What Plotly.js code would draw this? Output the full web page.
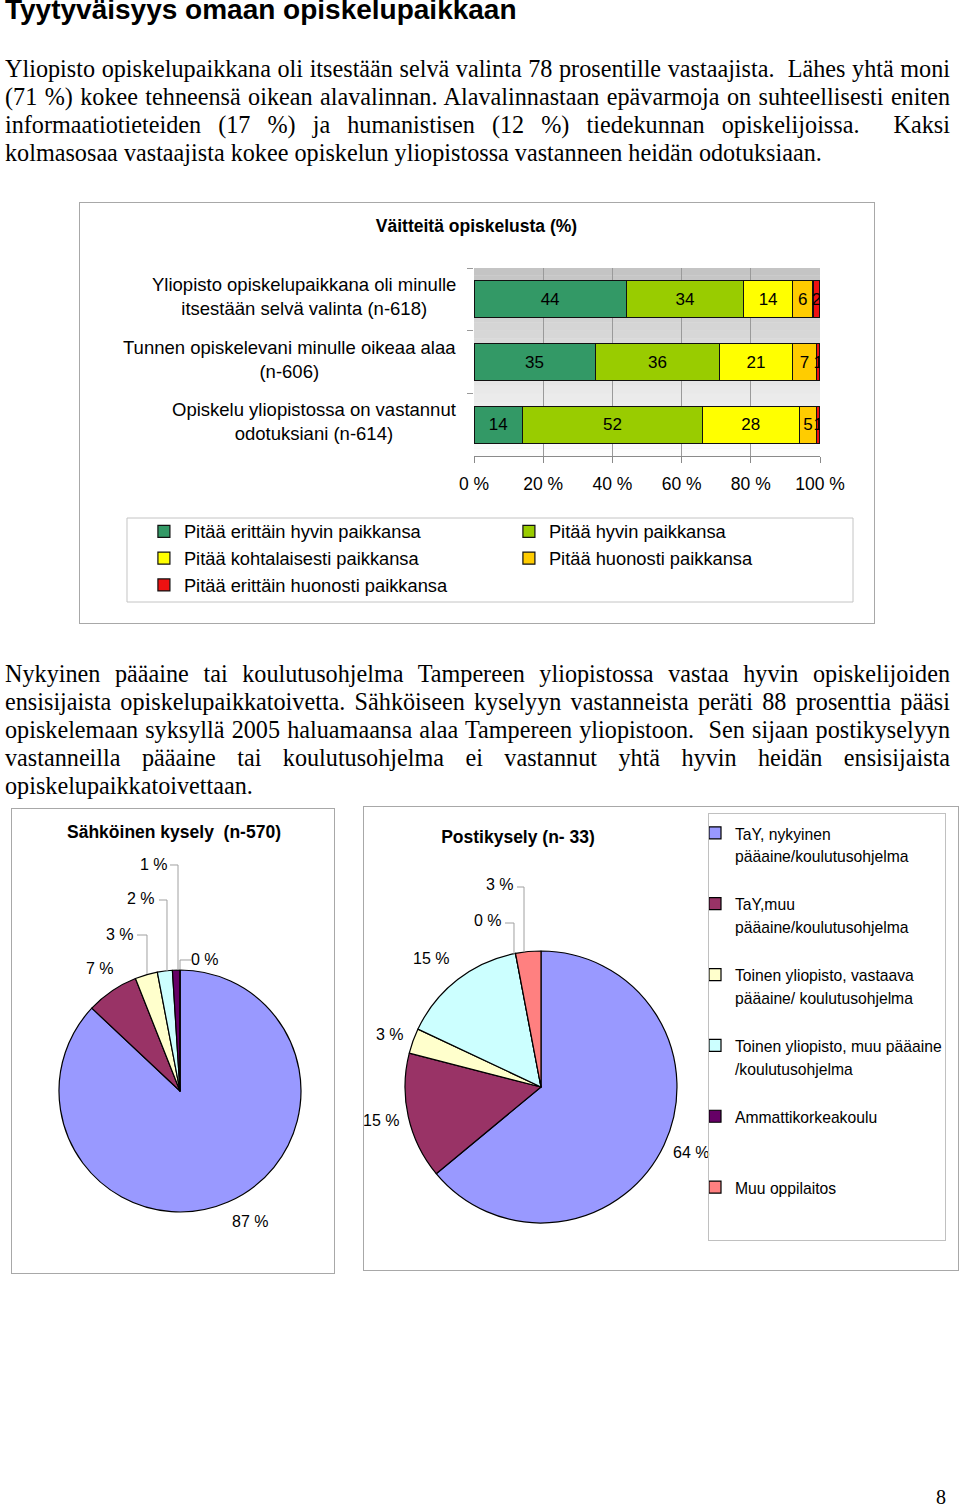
<!DOCTYPE html>
<html>
<head>
<meta charset="utf-8">
<script src="https://cdn.plot.ly/plotly-3.0.1.min.js"></script>
<style>
  body { margin:0; background:#fff; }
  #page { position:relative; width:960px; height:1508px; overflow:hidden; background:#fff; }
  .h { position:absolute; left:5px; top:-4px; font-family:"Liberation Sans", Arial, sans-serif; font-weight:bold; font-size:28px; line-height:28px; white-space:nowrap; color:#000; }
  .ln { position:absolute; left:5px; width:945px; height:28px; font-family:"Liberation Serif","Times New Roman",serif; font-size:24.2px; line-height:28px; color:#000; white-space:nowrap; text-align:left; }
  .ln span { white-space:pre; display:inline-block; transform-origin:0 50%; }
  .chart { position:absolute; }
  .frame { position:absolute; box-sizing:border-box; border:1.5px solid #a8a8a8; pointer-events:none; z-index:5; }
  .lframe { position:absolute; box-sizing:border-box; border:1px solid #c0c0c0; pointer-events:none; z-index:5; }
  .pg { position:absolute; left:936px; top:1485px; font-family:"Liberation Serif","Times New Roman",serif; font-size:20px; line-height:24px; }
</style>
</head>
<body>
<div id="page">
  <div class="h">Tyytyväisyys omaan opiskelupaikkaan</div>

  <div class="ln j" style="top:55px"><span>Yliopisto opiskelupaikkana oli itsestään selvä valinta 78 prosentille vastaajista.  Lähes yhtä moni</span></div>
  <div class="ln j" style="top:83px"><span>(71 %) kokee tehneensä oikean alavalinnan. Alavalinnastaan epävarmoja on suhteellisesti eniten</span></div>
  <div class="ln j" style="top:111px"><span>informaatiotieteiden (17 %) ja humanistisen (12 %) tiedekunnan opiskelijoissa.  Kaksi</span></div>
  <div class="ln" style="top:139px"><span>kolmasosaa vastaajista kokee opiskelun yliopistossa vastanneen heidän odotuksiaan.</span></div>

  <div id="bar" class="chart" style="left:79px;top:202px;width:795px;height:421px;"></div>
  <div class="frame" style="left:79px;top:202px;width:796px;height:422px;"></div>

  <div class="ln j" style="top:660px"><span>Nykyinen pääaine tai koulutusohjelma Tampereen yliopistossa vastaa hyvin opiskelijoiden</span></div>
  <div class="ln j" style="top:688px"><span>ensisijaista opiskelupaikkatoivetta. Sähköiseen kyselyyn vastanneista peräti 88 prosenttia pääsi</span></div>
  <div class="ln j" style="top:716px"><span>opiskelemaan syksyllä 2005 haluamaansa alaa Tampereen yliopistoon.  Sen sijaan postikyselyyn</span></div>
  <div class="ln j" style="top:744px"><span>vastanneilla pääaine tai koulutusohjelma ei vastannut yhtä hyvin heidän ensisijaista</span></div>
  <div class="ln" style="top:772px"><span>opiskelupaikkatoivettaan.</span></div>

  <div id="pie1" class="chart" style="left:11px;top:808px;width:323px;height:465px;"></div>
  <div class="frame" style="left:11px;top:808px;width:324px;height:466px;"></div>
  <div id="pie2" class="chart" style="left:363px;top:806px;width:595px;height:464px;"></div>
  <div class="frame" style="left:363px;top:806px;width:596px;height:465px;"></div>
  <div class="lframe" style="left:708px;top:813px;width:238px;height:428px;"></div>

  <div class="pg">8</div>
</div>

<script>
// ---------- DATA ----------
const statements = [
  "Yliopisto opiskelupaikkana oli minulle<br>itsestään selvä valinta (n-618)",
  "Tunnen opiskelevani minulle oikeaa alaa<br>(n-606)",
  "Opiskelu yliopistossa on vastannut<br>odotuksiani (n-614)"
];
const seriesNames = [
  "Pitää erittäin hyvin paikkansa",
  "Pitää hyvin paikkansa",
  "Pitää kohtalaisesti paikkansa",
  "Pitää huonosti paikkansa",
  "Pitää erittäin huonosti paikkansa"
];
const erittainHyvin    = [44, 35, 14];
const hyvin            = [34, 36, 52];
const kohtalaisesti    = [14, 21, 28];
const huonosti         = [6, 7, 5];
const erittainHuonosti = [2, 1, 1];
const xTickVals = [0, 20, 40, 60, 80, 100];
const xTickText = ["0 %", "20 %", "40 %", "60 %", "80 %", "100 %"];
const barTitle = "Väitteitä opiskelusta (%)";

const pieLabels = [
  "TaY, nykyinen<br>pääaine/koulutusohjelma",
  "TaY,muu<br>pääaine/koulutusohjelma",
  "Toinen yliopisto, vastaava<br>pääaine/ koulutusohjelma",
  "Toinen yliopisto, muu pääaine<br>/koulutusohjelma",
  "Ammattikorkeakoulu",
  "Muu oppilaitos"
];
const sahkoinenValues = [87, 7, 3, 2, 1, 0];
const postiValues     = [64, 15, 3, 15, 0, 3];
const pie1Title = "Sähköinen kysely&nbsp; (n-570)";
const pie2Title = "Postikysely (n- 33)";

// ---------- STYLE ----------
const SANS = '"Liberation Sans", Arial, sans-serif';
const barColors = ["#339966", "#99cc00", "#ffff00", "#ffcc00", "#ee1111"];
const pieColors = ["#9999ff", "#993366", "#ffffcc", "#ccffff", "#660066", "#ff8080"];
const config = { staticPlot: true, displayModeBar: false };

// label placement (pixels inside each chart box, text centre) and leader lines (elbows)
const pie1LabelPos = [[239, 413], [89, 161], [109, 126], [130, 91], [143, 56], [194, 151]];
const pie1Leaders  = [null, null,
  [[126, 127], [136, 127], [136, 166]],
  [[148, 92], [156, 92], [156, 163]],
  [[159, 57], [167, 57], [167, 162]],
  [[169, 162], [169, 152], [180, 152]]];
const pie2LabelPos = [[328, 346], [18, 314], [27, 228], [68, 152], [125, 115], [137, 79]];
const pie2Leaders  = [null, null, null, null,
  [[142, 117], [151, 117], [151, 148]],
  [[154, 81], [161, 81], [161, 146]]];

// ---------- BAR CHART ----------
const seriesValues = [erittainHyvin, hyvin, kohtalaisesti, huonosti, erittainHuonosti];
const barTraces = seriesValues.map((vals, i) => ({
  type: "bar",
  orientation: "h",
  name: seriesNames[i],
  y: statements,
  x: vals,
  text: vals.map(String),
  textposition: "inside",
  insidetextanchor: "middle",
  textangle: 0,
  constraintext: "none",
  textfont: { family: SANS, size: 17, color: "#000" },
  marker: { color: barColors[i], line: { color: "#111", width: 1.2 } },
  hoverinfo: "skip"
}));

const barShapes = [];
const NB = 24;
for (let k = 0; k < NB; k++) {
  const t = k / (NB - 1);
  const c = Math.round(196 + t * (252 - 196));
  barShapes.push({
    type: "rect", xref: "x domain", yref: "y domain",
    x0: 0, x1: 1, y0: 1 - (k + 1) / NB, y1: 1 - k / NB,
    fillcolor: `rgb(${c},${c},${c})`, line: { width: 0 }, layer: "below"
  });
}
barShapes.push({
  type: "rect", xref: "paper", yref: "paper",
  x0: -1.0029, x1: 1.0954, y0: -0.7766, y1: -0.3298,
  line: { color: "#c4c4c4", width: 1 }, fillcolor: "rgba(0,0,0,0)", layer: "above"
});

const catAnnotations = statements.map(s => ({
  xref: "paper", yref: "y", x: -0.046, y: s, yshift: 3,
  xanchor: "right", yanchor: "middle", align: "center",
  text: s, showarrow: false,
  font: { family: SANS, size: 18.5, color: "#000" }
}));

Plotly.newPlot("bar", barTraces, {
  width: 795, height: 421,
  margin: { l: 395, r: 54, t: 66, b: 167, autoexpand: false },
  paper_bgcolor: "#fff",
  plot_bgcolor: "#e6e6e6",
  barmode: "stack",
  bargap: 0.41,
  showlegend: true,
  title: {
    text: barTitle, xref: "container", yref: "container",
    x: 0.5, y: 1 - 24 / 421, xanchor: "center", yanchor: "middle",
    font: { family: SANS, size: 17.5, color: "#000", weight: "bold" }
  },
  xaxis: {
    range: [0, 100], tickvals: xTickVals, ticktext: xTickText,
    showgrid: true, gridcolor: "#9a9a9a", gridwidth: 1,
    zeroline: false, showline: true, linecolor: "#8a8a8a", linewidth: 1,
    ticks: "outside", ticklen: 6, tickcolor: "#8a8a8a",
    ticklabelstandoff: 6,
    tickfont: { family: SANS, size: 17.5, color: "#000" },
    fixedrange: true
  },
  yaxis: {
    autorange: "reversed", showticklabels: false, showgrid: false,
    ticks: "outside", tickson: "boundaries", ticklen: 6, tickcolor: "#9a9a9a",
    showline: false, zeroline: false, fixedrange: true
  },
  legend: {
    orientation: "h", x: -0.954, xanchor: "left", y: -0.303, yanchor: "top",
    entrywidth: 320, borderwidth: 0, bgcolor: "rgba(0,0,0,0)",
    font: { family: SANS, size: 18.3, color: "#000" },
    traceorder: "normal"
  },
  shapes: barShapes,
  annotations: catAnnotations
}, config);

// ---------- PIE CHARTS ----------
function pieTrace(values, domain, showlegend) {
  return {
    type: "pie",
    labels: pieLabels.map(l => {
      const n = l.split("<br>").length;
      return '<span style="font-size:15.7px">' + l + '</span>' + "<br>&nbsp;".repeat(3 - n);
    }),
    values: values,
    sort: false,
    direction: "clockwise",
    rotation: 0,
    marker: { colors: pieColors, line: { color: "#000", width: 1.2 } },
    textinfo: "none",
    textposition: "none",
    automargin: false,
    domain: domain,
    showlegend: showlegend,
    hoverinfo: "none"
  };
}

function pieLabelAnnotations(values, pos, W, H) {
  return values.map((v, i) => ({
    xref: "paper", yref: "paper",
    x: pos[i][0] / W, y: 1 - pos[i][1] / H,
    xanchor: "center", yanchor: "middle",
    text: v + " %", showarrow: false,
    font: { family: SANS, size: 16, color: "#000" }
  }));
}
function leaderShapes(leaders, W, H) {
  return leaders.filter(Boolean).map(pts => ({
    type: "path", xref: "paper", yref: "paper",
    path: pts.map((p, k) => (k ? "L" : "M") + (p[0] / W).toFixed(5) + "," + (1 - p[1] / H).toFixed(5)).join(" "),
    line: { color: "#a0a0a0", width: 1 }
  }));
}

Plotly.newPlot("pie1", [pieTrace(sahkoinenValues, { x: [0.1486, 0.8978], y: [0.1312, 0.6516] }, false)], {
  width: 323, height: 465,
  margin: { l: 0, r: 0, t: 0, b: 0, autoexpand: false },
  paper_bgcolor: "#fff",
  title: {
    text: pie1Title, xref: "paper", yref: "paper", x: 163 / 323, y: 1 - 24 / 465,
    xanchor: "center", yanchor: "middle",
    font: { family: SANS, size: 17.5, color: "#000", weight: "bold" }
  },
  annotations: pieLabelAnnotations(sahkoinenValues, pie1LabelPos, 323, 465),
  shapes: leaderShapes(pie1Leaders, 323, 465)
}, config);

Plotly.newPlot("pie2", [pieTrace(postiValues, { x: [0.0706, 0.5277], y: [0.1013, 0.6875] }, true)], {
  width: 595, height: 464,
  margin: { l: 0, r: 0, t: 0, b: 0, autoexpand: false },
  paper_bgcolor: "#fff",
  title: {
    text: pie2Title, xref: "paper", yref: "paper", x: 155 / 595, y: 1 - 31 / 464,
    xanchor: "center", yanchor: "middle",
    font: { family: SANS, size: 17.5, color: "#000", weight: "bold" }
  },
  legend: {
    x: 332 / 595, xanchor: "left", y: 1 - 9 / 464, yanchor: "top",
    bgcolor: "#fff", borderwidth: 0,
    valign: "top", traceorder: "normal",
    font: { family: SANS, size: 17.4, color: "#000" }
  },
  annotations: pieLabelAnnotations(postiValues, pie2LabelPos, 595, 464),
  shapes: leaderShapes(pie2Leaders, 595, 464)
}, config);

// ---------- justify paragraph lines ----------
function justifyLines() {
  document.querySelectorAll(".ln.j").forEach(el => {
    const span = el.querySelector("span");
    span.style.wordSpacing = "0px";
    span.style.transform = "none";
    const w = span.getBoundingClientRect().width;
    const n = (span.textContent.match(/[ \u00a0]/g) || []).length;
    const target = 945;
    if (w <= target && n > 0) {
      span.style.wordSpacing = ((target - w) / n) + "px";
    } else if (w > target) {
      span.style.transform = "scaleX(" + (target / w) + ")";
    }
  });
}
justifyLines();
if (document.fonts && document.fonts.ready) document.fonts.ready.then(justifyLines);
</script>
</body>
</html>
